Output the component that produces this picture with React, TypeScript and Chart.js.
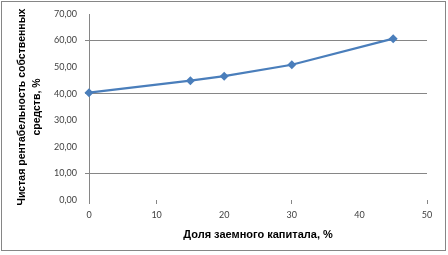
import React, { useEffect, useRef } from "react";
import { Chart, registerables } from "chart.js";

Chart.register(...registerables);

const shareOfDebt = [0, 15, 20, 30, 45];
const netReturn = [40.4, 44.9, 46.6, 50.9, 60.7];
const yTitle = ["Чистая рентабельность собственных", "средств, %"];
const xTitle = "Доля заемного капитала, %";
const visibleYGrid = [10, 40, 60];
const visibleXTicks = [0, 10, 30, 50];

const borderPlugin = {
  id: "outerBorder",
  afterDraw(chart: any) {
    const ctx = chart.ctx;
    ctx.save();
    ctx.strokeStyle = "#868686";
    ctx.lineWidth = 1;
    ctx.strokeRect(1.5, 1.5, 444, 249);
    ctx.restore();
  },
};

export default function App() {
  const ref = useRef<HTMLCanvasElement | null>(null);
  useEffect(() => {
    document.body.style.margin = "0";
    const canvas = ref.current!;
    const chart = new Chart(canvas, {
      type: "line",
      data: {
        datasets: [
          {
            data: shareOfDebt.map((x, i) => ({ x, y: netReturn[i] })),
            borderColor: "#4a7ebb",
            backgroundColor: "#4a7ebb",
            borderWidth: 2.25,
            pointStyle: "rectRot",
            pointRadius: 4.5,
            pointBorderWidth: 0,
            tension: 0,
            clip: false,
          } as any,
        ],
      },
      options: {
        responsive: false,
        animation: false,
        layout: { padding: { left: 7, right: 21, top: 14, bottom: 13 } },
        plugins: { legend: { display: false }, tooltip: { enabled: false } },
        scales: {
          x: {
            type: "linear",
            min: 0,
            max: 50,
            afterFit: (s: any) => {
              s.height = 42;
            },
            border: { display: false },
            grid: {
              drawOnChartArea: false,
              tickLength: 4,
              tickColor: (c: any) =>
                visibleXTicks.includes(c.tick?.value) ? "#868686" : "rgba(0,0,0,0)",
            },
            ticks: {
              stepSize: 10,
              padding: 6,
              color: "#404040",
              font: { family: "Lato", size: 9 },
              maxRotation: 0,
            },
            title: {
              display: true,
              text: xTitle,
              color: "#000",
              font: { family: "Liberation Sans", size: 11, weight: "bold", lineHeight: 1.2 },
              padding: { top: 0, bottom: 0 },
            },
          },
          y: {
            min: 0,
            max: 70,
            afterFit: (s: any) => {
              s.width = 82;
            },
            border: { display: true, color: "#868686", width: 1 },
            grid: {
              tickLength: 4,
              color: (c: any) =>
                visibleYGrid.includes(c.tick?.value) ? "#868686" : "rgba(0,0,0,0)",
              tickColor: (c: any) =>
                visibleYGrid.includes(c.tick?.value) ? "#868686" : "rgba(0,0,0,0)",
            },
            ticks: {
              stepSize: 10,
              padding: 8,
              color: "#404040",
              font: { family: "Lato", size: 9 },
              callback: (v: any) => Number(v).toFixed(2).replace(".", ","),
            },
            title: {
              display: true,
              text: yTitle,
              color: "#000",
              font: { family: "Liberation Sans", size: 10.5, weight: "bold", lineHeight: "15px" as any },
              padding: { top: 8, bottom: 0 },
            },
          },
        },
      },
      plugins: [borderPlugin],
    });
    return () => chart.destroy();
  }, []);
  return <canvas ref={ref} width={448} height={255} style={{ display: "block" }} />;
}
